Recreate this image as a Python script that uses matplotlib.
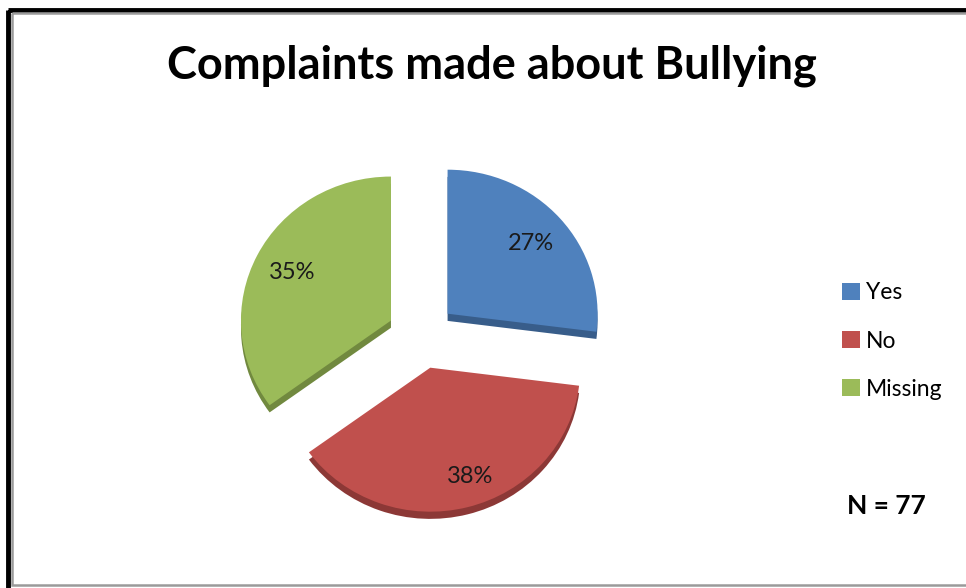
import matplotlib
matplotlib.use("Agg")
import numpy as np
import matplotlib.pyplot as plt
from matplotlib.patches import Rectangle

# Survey answers
categories = ["Yes", "No", "Missing"]
shares = [27, 38, 35]
title = "Complaints made about Bullying"
note = "N = 77"

top_colors = ["#4F81BD", "#C0504D", "#9BBB59"]
side_colors = ["#385D8A", "#8C3836", "#71893F"]

W, H = 966, 588
fig = plt.figure(figsize=(W / 100, H / 100), dpi=100)
fig.patch.set_facecolor("white")

# full-figure layer in pixel units for the frame and the text
bg = fig.add_axes([0, 0, 1, 1])
bg.set_xlim(0, W)
bg.set_ylim(H, 0)
bg.axis("off")
bg.add_patch(Rectangle((8, 9.5), 1000, 1000, fill=False, edgecolor="black", linewidth=3.5))
bg.add_patch(Rectangle((12, 13), 1000, 572, fill=False, edgecolor="#9a9a9a", linewidth=1.8))

bg.text(492, 66, title, ha="center", va="center", fontsize=32.5,
        fontweight="bold", family="Lato")
bg.text(886, 506, note, ha="center", va="center", fontsize=19,
        fontweight="bold", family="Lato")

# pie axes: 150 px per unit horizontally, 144 px per unit vertically
cx, cy = 421.7, 335.6
span = 1.5
ax = fig.add_axes([(cx - 150 * span) / W, (H - cy - 144 * span) / H,
                   300 * span / W, 288 * span / H])
ax.axis("off")

explode = [0.23, 0.23, 0.23]
depth = 0.05
ax.pie(shares, colors=side_colors, startangle=90, counterclock=False,
       explode=explode, center=(0, -depth),
       wedgeprops=dict(linewidth=0))
wedges, _, autotexts = ax.pie(
    shares, colors=top_colors, startangle=90, counterclock=False,
    explode=explode, autopct="%d%%", pctdistance=0.74,
    wedgeprops=dict(linewidth=0),
    textprops=dict(fontsize=17, color="#1a1a1a", family="Lato"))

# the "No" label sits a little further out, toward the lower right
w = wedges[1]
ang = np.deg2rad((w.theta1 + w.theta2) / 2 + 5)
autotexts[1].set_position((w.center[0] + 0.8 * np.cos(ang),
                           w.center[1] + 0.8 * np.sin(ang)))

ax.set_aspect("auto")
ax.set_xlim(-span, span)
ax.set_ylim(-span, span)

fig.legend(wedges, categories, loc="center left",
           bbox_to_anchor=(842 / W, 1 - 341 / H), frameon=False,
           borderpad=0, borderaxespad=0,
           prop=dict(family="Lato", size=16.5), handlelength=0.8,
           handleheight=0.8, handletextpad=0.25, labelspacing=1.18)

fig.savefig("out.png", dpi=100)
